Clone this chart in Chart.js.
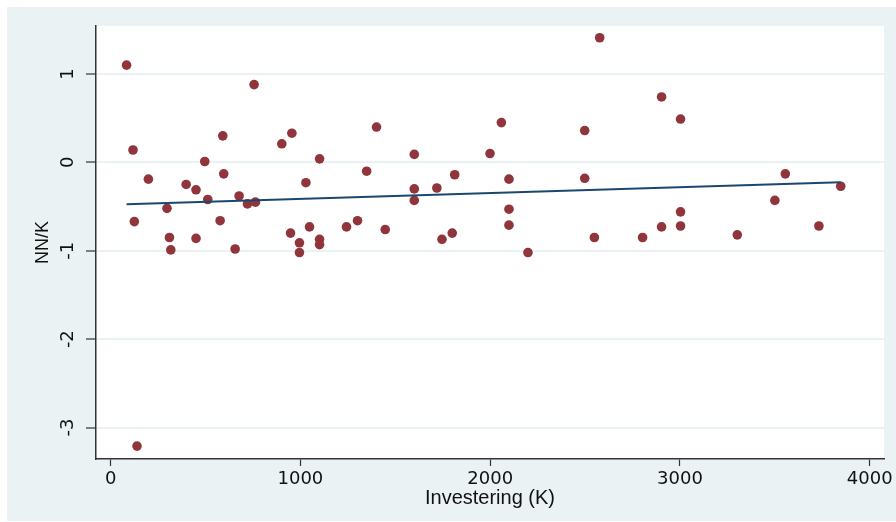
<!DOCTYPE html>
<html>
<head>
<meta charset="utf-8">
<script src="https://cdn.jsdelivr.net/npm/chart.js@4/dist/chart.umd.min.js"></script>
<style>
  html, body { margin: 0; padding: 0; background: #ffffff; }
  #wrap { width: 896px; height: 522px; }
</style>
</head>
<body>
<div id="wrap"><canvas id="c" width="896" height="522"></canvas></div>
<script>
// Scatter data: Investering (K) vs NN/K
const investering = [84, 756, 118, 591, 955, 902, 496, 1101, 596, 199, 398, 450, 1029, 512, 677, 721, 763, 297, 125, 577, 310, 450, 317, 656, 948, 1048, 995, 995, 1101, 1101, 1243, 1401, 2059, 2498, 1600, 1999, 1349, 1813, 2099, 2498, 1600, 1719, 1600, 2099, 2099, 1301, 1447, 1746, 1800, 2199, 2577, 2903, 3003, 3555, 3847, 3500, 3003, 2549, 2803, 2903, 3003, 3302, 3732, 139];
const nnk = [1.10, 0.88, 0.14, 0.30, 0.33, 0.21, 0.01, 0.04, -0.13, -0.19, -0.25, -0.31, -0.23, -0.42, -0.38, -0.47, -0.45, -0.52, -0.67, -0.66, -0.85, -0.86, -0.99, -0.98, -0.80, -0.73, -0.91, -1.02, -0.87, -0.93, -0.73, 0.40, 0.45, 0.36, 0.09, 0.10, -0.10, -0.14, -0.19, -0.18, -0.30, -0.29, -0.43, -0.53, -0.71, -0.66, -0.76, -0.87, -0.80, -1.02, 1.41, 0.74, 0.49, -0.13, -0.27, -0.43, -0.56, -0.85, -0.85, -0.73, -0.72, -0.82, -0.72, -3.21];
// Fitted line endpoints
const fitX = [84, 3847];
const fitY = [-0.475, -0.225];
// Tick labels
const xTicks = [0, 1000, 2000, 3000, 4000];
const yTicks = [-3, -2, -1, 0, 1];

const scatterPts = investering.map((x, i) => ({ x: x, y: nnk[i] }));
const fitPts = fitX.map((x, i) => ({ x: x, y: fitY[i] }));

const bgPlugin = {
  id: 'bg',
  beforeDraw(chart) {
    const ctx = chart.ctx;
    const a = chart.chartArea;
    ctx.save();
    ctx.fillStyle = '#ffffff';
    ctx.fillRect(0, 0, chart.width, chart.height);
    ctx.fillStyle = '#eaf2f3';
    ctx.fillRect(7, 7, chart.width - 7, chart.height - 8);
    ctx.fillStyle = '#ffffff';
    ctx.fillRect(a.left, a.top, a.right - a.left, a.bottom - a.top);
    ctx.restore();
  }
};

new Chart(document.getElementById('c'), {
  type: 'scatter',
  data: {
    datasets: [
      {
        label: 'Fitted values',
        type: 'line',
        data: fitPts,
        borderColor: '#1a476f',
        borderWidth: 2,
        pointRadius: 0,
        fill: false,
        tension: 0,
        order: 0
      },
      {
        label: 'NN/K',
        data: scatterPts,
        backgroundColor: '#90353b',
        borderColor: '#90353b',
        borderWidth: 0,
        pointRadius: 4.8,
        pointHoverRadius: 4.8,
        order: 1
      }
    ]
  },
  options: {
    responsive: false,
    animation: false,
    devicePixelRatio: 1,
    layout: { padding: { left: 0, top: 26, right: 12, bottom: 0 } },
    plugins: {
      legend: { display: false },
      tooltip: { enabled: false },
      title: { display: false }
    },
    scales: {
      x: {
        type: 'linear',
        min: -77,
        max: 4075,
        afterBuildTicks: (s) => { s.ticks = xTicks.map(v => ({ value: v })); },
        afterFit: (s) => { s.height = 63; },
        grid: {
          drawOnChartArea: false,
          tickLength: 7,
          tickColor: '#333333',
          tickWidth: 1.2
        },
        border: { display: true, color: '#333333', width: 1.5 },
        ticks: {
          autoSkip: false,
          maxRotation: 0,
          minRotation: 0,
          padding: 3,
          color: '#111111',
          font: { family: 'DejaVu Sans', size: 18 },
          callback: (v) => String(v)
        },
        title: {
          display: true,
          text: 'Investering (K)',
          color: '#111111',
          font: { family: 'Liberation Sans', size: 20 },
          padding: { top: 0, bottom: 12 }
        }
      },
      y: {
        type: 'linear',
        min: -3.356,
        max: 1.543,
        afterBuildTicks: (s) => { s.ticks = yTicks.map(v => ({ value: v })); },
        afterFit: (s) => { s.width = 96; },
        grid: {
          drawOnChartArea: true,
          color: '#eaf2f3',
          lineWidth: 2,
          tickLength: 10,
          tickColor: '#333333',
          tickWidth: 1.2
        },
        border: { display: true, color: '#333333', width: 1.5 },
        ticks: {
          autoSkip: false,
          minRotation: 90,
          maxRotation: 90,
          crossAlign: 'center',
          padding: 9,
          color: '#111111',
          font: { family: 'DejaVu Sans', size: 18 },
          callback: (v) => String(v)
        },
        title: {
          display: true,
          text: 'NN/K',
          color: '#111111',
          font: { family: 'Liberation Sans', size: 18 },
          padding: { top: 32, bottom: 0 }
        }
      }
    }
  },
  plugins: [bgPlugin]
});
</script>
</body>
</html>
